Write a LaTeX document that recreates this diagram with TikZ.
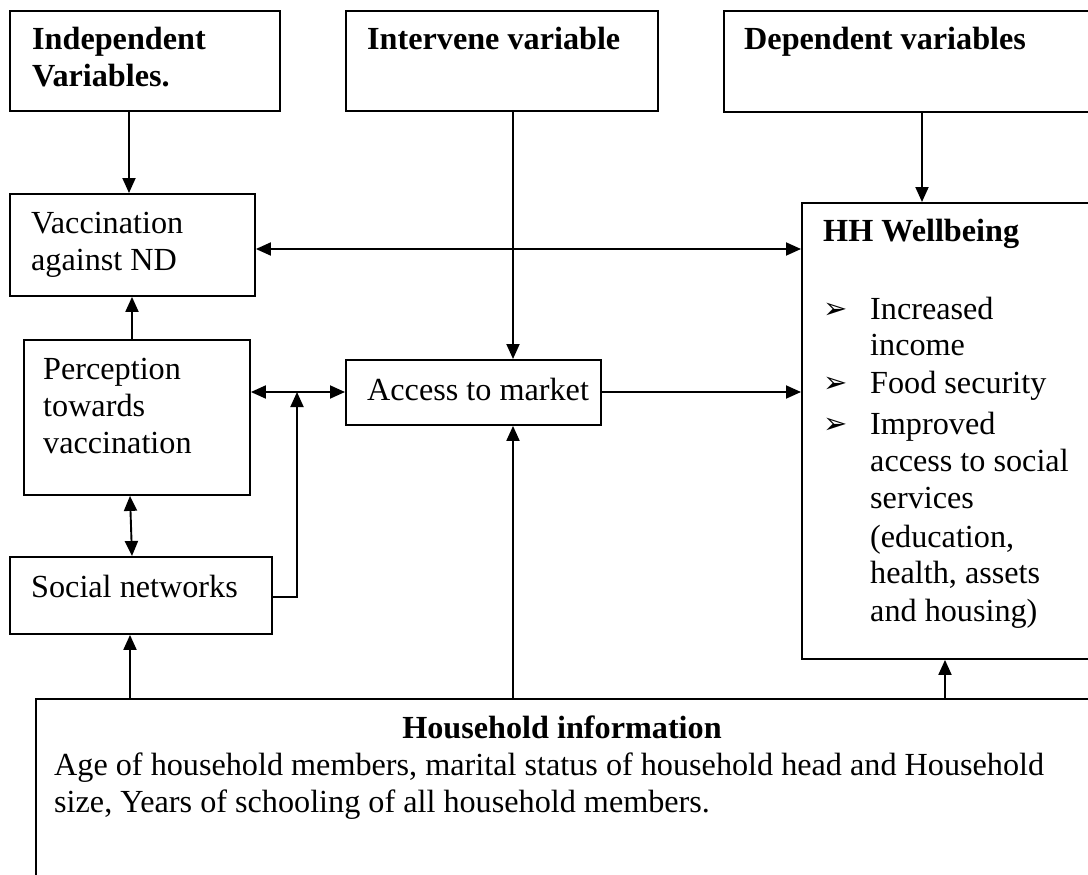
\documentclass[tikz,border=0pt]{standalone}
\usepackage{fontspec}
\setmainfont{Liberation Serif}
\newfontfamily\dingfont{DejaVu Sans}
\usetikzlibrary{arrows.meta}
\tikzset{
  box/.style={draw, line width=1.9pt, rectangle, anchor=north west, inner sep=0pt},
  txt/.style={anchor=base west, inner sep=0pt, font=\fontsize{32.2}{37}\selectfont},
  btxt/.style={anchor=base west, inner sep=0pt, font=\fontsize{32.2}{37}\selectfont\bfseries},
  conn/.style={line width=1.9pt},
  arr/.style={conn, -{Triangle[length=15pt,width=13pt]}},
  darr/.style={conn, {Triangle[length=15pt,width=13pt]}-{Triangle[length=15pt,width=13pt]}},
  bul/.style={anchor=base west, inner sep=0pt, font=\dingfont\fontsize{29}{29}\selectfont}
}
\begin{document}
\begin{tikzpicture}[x=1pt,y=-1pt]
\useasboundingbox (0,0) rectangle (1088,875);
\clip (0,0) rectangle (1088,875);
% boxes
\node[box, minimum width=270pt, minimum height=100pt] (indep) at (9,10) {};
\node[box, minimum width=312pt, minimum height=100pt] (interv) at (345,10) {};
\node[box, minimum width=420pt, minimum height=101pt] (dep) at (723,10) {};
\node[box, minimum width=245pt, minimum height=102pt] (vacc) at (9,193) {};
\node[box, minimum width=320pt, minimum height=456pt] (hh) at (801,202) {};
\node[box, minimum width=226pt, minimum height=155pt] (perc) at (23,339) {};
\node[box, minimum width=255pt, minimum height=65pt] (access) at (345,359) {};
\node[box, minimum width=262pt, minimum height=77pt] (social) at (9,556) {};
\node[box, minimum width=1100pt, minimum height=220pt] (house) at (35,698) {};
% texts
\node[btxt] (t1) at (32,50) {Independent};
\node[btxt] (t2) at (32,87) {Variables.};
\node[btxt] (t3) at (367,50) {Intervene variable};
\node[btxt] (t4) at (744,50) {Dependent variables};
\node[txt] (t5) at (31,233) {Vaccination};
\node[txt] (t6) at (31,270) {against ND};
\node[btxt] (t7) at (823,241) {HH Wellbeing};
\node[txt] (t8) at (43,379) {Perception};
\node[txt] (t9) at (43,416) {towards};
\node[txt] (t10) at (43,453) {vaccination};
\node[txt] (t11) at (367,400) {Access to market};
\node[txt] (t12) at (31,597) {Social networks};
\node[bul] (b1) at (823,318) {➢};
\node[bul] (b2) at (823,392) {➢};
\node[bul] (b3) at (823,433) {➢};
\node[txt] (w1) at (870,319) {Increased};
\node[txt] (w2) at (870,355) {income};
\node[txt] (w3) at (870,393) {Food security};
\node[txt] (w4) at (870,434) {Improved};
\node[txt] (w5) at (870,471) {access to social};
\node[txt] (w6) at (870,508) {services};
\node[txt] (w7) at (870,547) {(education,};
\node[txt] (w8) at (870,583) {health, assets};
\node[txt] (w9) at (870,621) {and housing)};
\node[btxt, anchor=base] (h1) at (562,738) {Household information};
\node[txt] (h2) at (54,775) {Age of household members, marital status of household head and Household};
\node[txt] (h3) at (54,812) {size, Years of schooling of all household members.};
% helper coordinates
\coordinate (xa) at (129,0);
\coordinate (xb) at (132,0);
\coordinate (xc) at (130,0);
\coordinate (xm) at (513,0);
\coordinate (xd) at (922,0);
\coordinate (xe) at (945,0);
\coordinate (xs) at (297,0);
\coordinate (ya) at (0,249);
\coordinate (yb) at (0,392);
\coordinate (yc) at (0,597);
% connectors
\draw[arr] (indep.south -| xa) -- (vacc.north -| xa);
\draw[arr] (interv.south -| xm) -- (access.north -| xm);
\draw[arr] (dep.south -| xd) -- (hh.north -| xd);
\draw[darr] (vacc.east |- ya) -- (hh.west |- ya);
\draw[arr] (perc.north -| xb) -- (vacc.south -| xb);
\draw[darr] (perc.east |- yb) -- (access.west |- yb);
\coordinate (jn) at (xs |- yb);
\draw[arr] (social.east |- yc) -- (xs |- yc) -- (jn);
\draw[arr] (access.east |- yb) -- (hh.west |- yb);
\draw[darr] (perc.south -| xc) -- (social.north -| xb);
\draw[arr] (house.north -| xc) -- (social.south -| xc);
\draw[arr] (house.north -| xm) -- (access.south -| xm);
\draw[arr] (house.north -| xe) -- (hh.south -| xe);
\end{tikzpicture}
\end{document}
